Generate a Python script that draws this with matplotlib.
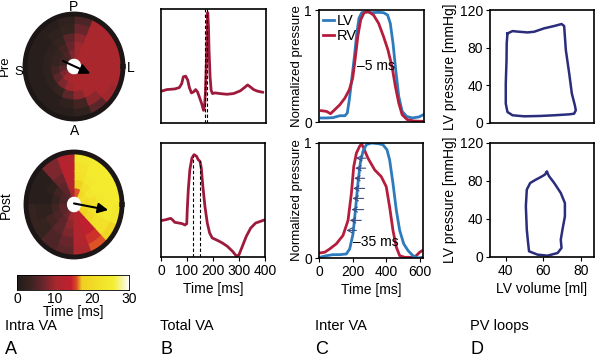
import numpy as np
import matplotlib
matplotlib.use('Agg')
import matplotlib.pyplot as plt
from matplotlib.colors import LinearSegmentedColormap, Normalize

plt.rcParams['font.family'] = ['Liberation Sans', 'DejaVu Sans']
plt.rcParams['font.size'] = 10
plt.rcParams['axes.linewidth'] = 1.2

# ---------------- data ----------------
# Intra-VA activation maps (rings inner->outer, 16 sectors of 22.5 deg starting at L=0deg, ccw)
pre_map = [
    [11, 11, 11, 10, 8, 5, 4, 4, 6, 8, 10, 11, 11, 11, 11, 11],
    [11, 11, 11, 10, 7, 4, 3, 3, 4, 6, 8, 10, 11, 11, 11, 11],
    [11, 11, 11, 9, 6, 3, 2, 2, 2, 2, 3, 6, 9, 11, 11, 11],
    [11, 11, 11, 7, 3, 2, 1, 1, 1, 1, 1, 2, 4, 9, 11, 11],
    [11, 11, 11, 5, 2, 1, 1, 1, 1, 1, 1, 1, 2, 6, 10, 11],
]
post_map = [
    [20, 22, 20, 16, 11, 6, 5, 5, 6, 6, 7, 10, 12, 13, 18, 20],
    [22, 24, 22, 18, 12, 6, 4, 3, 4, 5, 6, 9, 12, 14, 20, 22],
    [24, 25, 24, 22, 13, 7, 2, 1, 2, 4, 6, 8, 12, 14, 22, 24],
    [25, 25, 25, 23, 13, 8, 1, 1, 2, 3, 5, 7, 12, 15, 22, 25],
    [25, 25, 25, 24, 12, 8, 1, 1, 3, 3, 5, 6, 11, 16, 19, 24],
]
ring_edges = [0.16, 0.32, 0.48, 0.64, 0.82, 1.0]
pre_arrow = [155, 0.25, -22, 0.36]    # tail angle, tail r, head angle, head r
post_arrow = [90, 0.02, -8.5, 0.72]
cbar_ticks = [0, 10, 20, 30]

# Total VA
pre_ecg_t = [6, 22, 53, 70, 79, 85, 94, 102, 108, 116, 124, 132, 139, 146, 155, 162, 166, 169, 173,
             176, 178, 181, 183, 187, 191, 196, 206, 225, 251, 276, 302, 318, 330, 340, 353, 368, 387]
pre_ecg_v = [0.282, 0.293, 0.299, 0.311, 0.346, 0.405, 0.411, 0.375, 0.311, 0.264, 0.273, 0.293, 0.273,
             0.229, 0.170, 0.111, 0.147, 0.258, 0.551, 0.786, 0.968, 0.845, 0.639, 0.405, 0.287, 0.258,
             0.264, 0.258, 0.252, 0.258, 0.282, 0.311, 0.334, 0.317, 0.293, 0.279, 0.270]
pre_dash = [166, 176]
post_ecg_t = [0, 18, 37, 44, 53, 69, 82, 92, 99, 101, 105, 111, 119, 127, 137, 143, 150, 155, 161, 169,
              178, 187, 197, 217, 236, 255, 275, 291, 300, 313, 328, 345, 364, 383, 400]
post_ecg_v = [0.319, 0.327, 0.339, 0.327, 0.304, 0.298, 0.292, 0.281, 0.292, 0.415, 0.591, 0.766, 0.868,
              0.898, 0.883, 0.854, 0.839, 0.781, 0.620, 0.444, 0.298, 0.211, 0.167, 0.146, 0.123, 0.094,
              0.050, 0.006, 0.020, 0.094, 0.181, 0.254, 0.298, 0.313, 0.327]
post_dash = [123, 149]

# Inter VA
pre_lv_t = [14, 44, 83, 123, 153, 167, 179, 193, 209, 223, 236, 252, 278, 312, 352, 381, 405, 421, 437,
            453, 471, 491, 517, 550, 590, 616]
pre_lv_p = [0.036, 0.036, 0.039, 0.056, 0.056, 0.080, 0.199, 0.377, 0.585, 0.792, 0.926, 0.976, 0.985,
            0.976, 0.979, 0.976, 0.955, 0.881, 0.703, 0.466, 0.228, 0.095, 0.050, 0.036, 0.045, 0.065]
pre_rv_t = [14, 44, 68, 93, 123, 153, 179, 199, 213, 229, 246, 266, 292, 322, 352, 381, 407, 431, 451,
            471, 491, 521, 560, 610]
pre_rv_p = [0.101, 0.095, 0.074, 0.110, 0.154, 0.214, 0.288, 0.392, 0.555, 0.763, 0.911, 0.976, 0.985,
            0.955, 0.881, 0.763, 0.644, 0.496, 0.318, 0.169, 0.065, 0.021, 0.009, 0.006]
post_lv_t = [4, 44, 83, 123, 163, 183, 203, 219, 232, 246, 262, 282, 312, 352, 381, 405, 421, 441, 461,
             481, 505, 531, 560, 590, 616]
post_lv_p = [0.006, 0.020, 0.029, 0.029, 0.035, 0.079, 0.211, 0.444, 0.649, 0.825, 0.927, 0.985, 1.0,
             0.994, 0.985, 0.942, 0.854, 0.649, 0.415, 0.240, 0.123, 0.064, 0.020, 0.0, 0.006]
post_rv_t = [4, 34, 64, 103, 143, 173, 193, 207, 223, 242, 254, 266, 292, 332, 371, 401, 421, 441, 461,
             481, 511, 550, 580, 600, 616]
post_rv_p = [0.044, 0.050, 0.079, 0.123, 0.196, 0.327, 0.561, 0.795, 0.912, 0.971, 0.994, 0.956, 0.868,
             0.766, 0.708, 0.620, 0.444, 0.240, 0.094, 0.020, 0.006, 0.006, 0.020, 0.050, 0.064]
shift_y = [0.868, 0.781, 0.693, 0.605, 0.518, 0.421, 0.327, 0.240]
shift_tail = [278, 278, 272, 272, 266, 266, 252, 223]
shift_head = [219, 215, 209, 203, 199, 193, 183, 163]

# PV loops
pre_vol = [40.9, 43.6, 47.1, 51.6, 55.1, 60.4, 65.8, 69.7, 71.1, 72.0, 73.8, 75.2, 76.8, 77.3, 76.4,
           73.8, 65.8, 58.7, 49.8, 43.6, 40.9, 40.0, 40.0, 40.4, 40.5, 40.9]
pre_pres = [95.1, 97.6, 96.9, 96.2, 96.9, 100.5, 103.0, 105.1, 103.0, 77.4, 52.5, 31.2, 18.8, 13.5, 9.9,
            9.2, 8.2, 7.5, 7.1, 8.2, 11.7, 20.6, 41.9, 66.7, 84.5, 95.1]
post_vol = [61.9, 63.1, 65.8, 69.3, 71.5, 71.5, 70.2, 69.3, 69.7, 67.6, 62.2, 56.9, 52.4, 51.9, 51.2,
            50.7, 51.2, 53.0, 56.0, 58.7, 60.8, 61.9]
post_pres = [89.5, 84.9, 77.9, 67.4, 56.8, 42.8, 28.8, 18.2, 9.5, 4.2, 1.4, 2.5, 6.0, 14.7, 28.8, 53.3,
             70.9, 77.9, 81.4, 84.2, 86.7, 89.5]

# ---------------- styling ----------------
W, H = 596, 357
ECG_C = '#9e1a3c'
LV_C = '#2d7bbd'
RV_C = '#b51d3d'
PV_C = '#2b2d7c'
cmap = LinearSegmentedColormap.from_list('va', [
    (0.0, '#221c1a'), (0.1, '#35231f'), (0.22, '#62262c'), (0.35, '#a8282e'),
    (0.48, '#c21e2e'), (0.53, '#dc4a26'), (0.58, '#f0d020'), (0.86, '#f4ee30'),
    (0.95, '#f8f6b0'), (1.0, '#ffffff')])
norm = Normalize(0, 30)

fig = plt.figure(figsize=(W / 100, H / 100), dpi=100)


def px_axes(x0, y0, x1, y1, **kw):
    return fig.add_axes([x0 / W, 1 - y1 / H, (x1 - x0) / W, (y1 - y0) / H], **kw)


def ftext(x, y, s, **kw):
    fig.text(x / W, 1 - y / H, s, **kw)


# ---- Panel A: polar maps ----
def polar_map(box, values, arrow):
    ax = px_axes(*box, projection='polar')
    ax.set_aspect('auto')
    nth = len(values[0])
    dth = 2 * np.pi / nth
    for i, row in enumerate(values):
        for j, v in enumerate(row):
            c = cmap(norm(v))
            ax.bar(j * dth + dth / 2, ring_edges[i + 1] - ring_edges[i], width=dth,
                   bottom=ring_edges[i], color=c, edgecolor=c, linewidth=0.8)
    ax.set_ylim(0, 1)
    ax.set_xticks([])
    ax.set_yticks([])
    ax.grid(False)
    ax.spines['polar'].set_linewidth(3.5)
    ax.spines['polar'].set_color('#1c1616')
    ax.annotate('', xy=(np.deg2rad(arrow[2]), arrow[3]), xytext=(np.deg2rad(arrow[0]), arrow[1]),
                arrowprops=dict(arrowstyle='-|>,head_length=0.6,head_width=0.3', color='black', lw=1.5,
                                shrinkA=0, shrinkB=0))
    return ax


polar_map((25, 14, 123, 119), pre_map, pre_arrow)
polar_map((26, 152, 122, 257), post_map, post_arrow)

ftext(73, 7, 'P', ha='center', va='center', fontsize=10)
ftext(19, 72, 'S', ha='center', va='center', fontsize=9.5)
ftext(131, 68, 'L', ha='center', va='center', fontsize=10)
ftext(75, 131, 'A', ha='center', va='center', fontsize=10)
ftext(5, 66, 'Pre', ha='center', va='center', rotation=90, fontsize=9.5)
ftext(6, 205, 'Post', ha='center', va='center', rotation=90, fontsize=10)

cax = px_axes(17, 275, 129, 290)
grad = np.linspace(0, 30, 256).reshape(1, -1)
cax.imshow(grad, aspect='auto', cmap=cmap, norm=norm, extent=[0, 30, 0, 1])
cax.set_yticks([])
cax.set_xticks(cbar_ticks)
cax.tick_params(axis='x', length=0, pad=1.5, labelsize=10)
for s in cax.spines.values():
    s.set_linewidth(0.6)
cax.set_xlabel('Time [ms]', labelpad=-1, fontsize=10)

# ---- Panel B ----
axb1 = px_axes(161, 9, 266, 123)
axb1.plot(pre_ecg_t, pre_ecg_v, color=ECG_C, lw=2)
for t in pre_dash:
    axb1.axvline(t, color='black', lw=0.8, ls=(0, (3, 2)))
axb1.set_xlim(0, 400)
axb1.set_ylim(0, 1)
axb1.set_xticks([])
axb1.set_yticks([])

axb2 = px_axes(161, 143, 265, 257)
axb2.plot(post_ecg_t, post_ecg_v, color=ECG_C, lw=2)
axb2.vlines(post_dash, 0, np.interp(post_dash, post_ecg_t, post_ecg_v), color='black', lw=0.8,
            linestyles=(0, (3, 2)))
axb2.set_xlim(0, 400)
axb2.set_ylim(0, 1)
axb2.set_xticks([0, 100, 200, 300, 400])
axb2.set_yticks([])
axb2.tick_params(axis='x', length=3, pad=2)
axb2.set_xlabel('Time [ms]', labelpad=3)

# ---- Panel C ----
axc1 = px_axes(319, 10, 424, 122)
axc1.plot(pre_lv_t, pre_lv_p, color=LV_C, lw=2, label='LV')
axc1.plot(pre_rv_t, pre_rv_p, color=RV_C, lw=2, label='RV')
axc1.set_xlim(0, 620)
axc1.set_ylim(0, 1)
axc1.set_xticks([])
axc1.set_yticks([0, 1])
axc1.tick_params(axis='y', length=3, pad=2)
axc1.set_ylabel('Normalized pressure', labelpad=1, fontsize=9.5)
axc1.text(222, 0.5, '\u20135 ms', ha='left', va='center', fontsize=10)
axc1.legend(loc='upper left', frameon=False, handlelength=0.7, handletextpad=0.2,
            borderaxespad=0.1, labelspacing=0.05, fontsize=10.5, borderpad=0.2)

axc2 = px_axes(319, 143, 423, 258)
axc2.plot(post_rv_t, post_rv_p, color=RV_C, lw=2)
axc2.plot(post_lv_t, post_lv_p, color=LV_C, lw=2)
for y, t0, t1 in zip(shift_y, shift_tail, shift_head):
    axc2.annotate('', xy=(t1, y), xytext=(t0, y),
                  arrowprops=dict(arrowstyle='->,head_length=0.35,head_width=0.18', color='#3b4d80',
                                  lw=0.8, shrinkA=0, shrinkB=0))
axc2.text(200, 0.14, '\u201335 ms', ha='left', va='center', fontsize=10)
axc2.set_xlim(0, 620)
axc2.set_ylim(0, 1)
axc2.set_xticks([0, 200, 400, 600])
axc2.set_yticks([0, 1])
axc2.tick_params(length=3, pad=2)
axc2.set_ylabel('Normalized pressure', labelpad=1, fontsize=9.5)
axc2.set_xlabel('Time [ms]', labelpad=3)

# ---- Panel D ----
axd1 = px_axes(490, 10, 594, 123)
axd1.plot(pre_vol, pre_pres, color=PV_C, lw=1.8)
axd1.set_xlim(31.6, 87)
axd1.set_ylim(0, 120)
axd1.set_xticks([])
axd1.set_yticks([0, 40, 80, 120])
axd1.tick_params(axis='y', length=3, pad=2)
axd1.set_ylabel('LV pressure [mmHg]', labelpad=2)

axd2 = px_axes(490, 143, 594, 257)
axd2.plot(post_vol, post_pres, color=PV_C, lw=1.8)
axd2.set_xlim(31.6, 87)
axd2.set_ylim(0, 120)
axd2.set_xticks([40, 60, 80])
axd2.set_yticks([0, 40, 80, 120])
axd2.tick_params(length=3, pad=2)
axd2.set_ylabel('LV pressure [mmHg]', labelpad=2)
axd2.set_xlabel('LV volume [ml]', labelpad=3)

# ---- bottom captions ----
for x, cap, letter in [(5, 'Intra VA', 'A'), (160, 'Total VA', 'B'), (315, 'Inter VA', 'C'),
                       (470, 'PV loops', 'D')]:
    ftext(x, 326, cap, ha='left', va='center', fontsize=10.5)
    ftext(x, 349, letter, ha='left', va='center', fontsize=13)

fig.savefig('out.png', dpi=100)
